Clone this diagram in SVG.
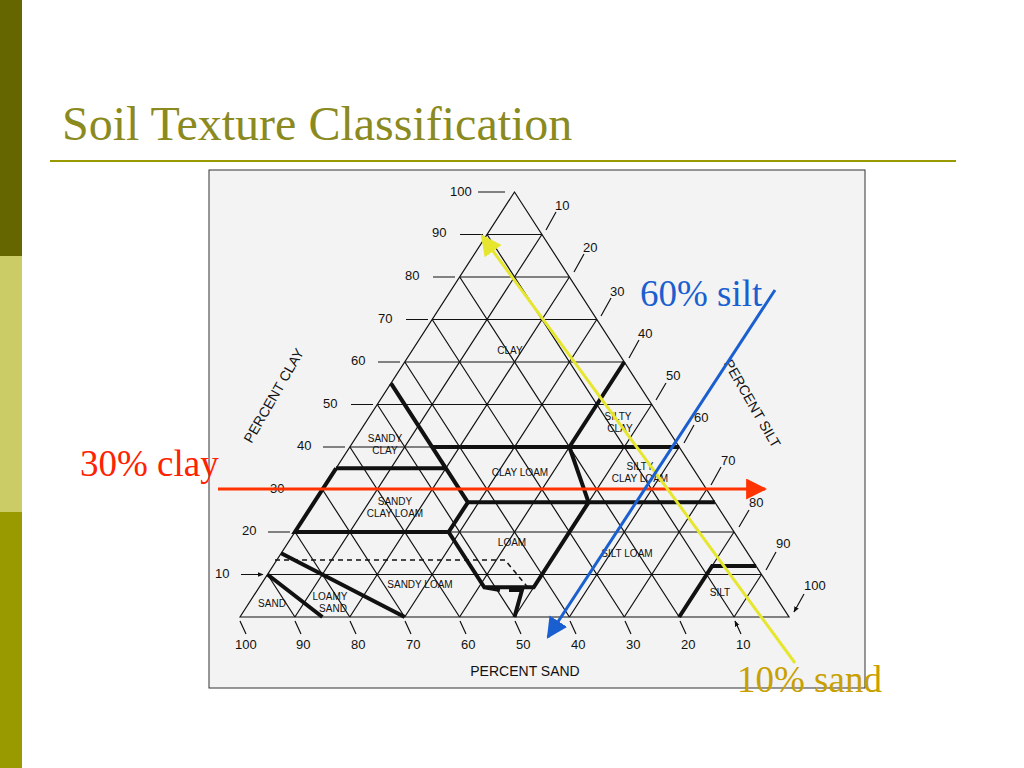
<svg xmlns="http://www.w3.org/2000/svg" width="1024" height="768" viewBox="0 0 1024 768">
<style>
.g{stroke:#111;stroke-width:1.2;fill:none}
.t{stroke:#111;stroke-width:4;fill:none}
.k{stroke:#111;stroke-width:1.2;fill:none}
.n{font-family:"Liberation Sans",Arial,sans-serif;font-size:13px;fill:#111}
.c{font-family:"Liberation Sans",Arial,sans-serif;font-size:10px;fill:#111;text-anchor:middle}
.a{font-family:"Liberation Sans",Arial,sans-serif;font-size:14px;fill:#111}
.s{font-family:"Liberation Serif","Times New Roman",serif;font-size:37px}
</style>
<defs>
<marker id="ar" viewBox="0 0 10 10" refX="9" refY="5" markerWidth="7" markerHeight="7" orient="auto-start-reverse"><path d="M0,0L10,5L0,10z" fill="context-stroke"/></marker>
<marker id="tk" viewBox="0 0 10 10" refX="9" refY="5" markerWidth="6" markerHeight="6" markerUnits="userSpaceOnUse" orient="auto"><path d="M0,1L10,5L0,9z" fill="#111"/></marker>
</defs>
<rect width="1024" height="768" fill="#fff"/>
<rect x="0" y="0" width="22" height="256" fill="#666600"/>
<rect x="0" y="256" width="22" height="256" fill="#cccc66"/>
<rect x="0" y="512" width="22" height="256" fill="#999900"/>
<text x="62" y="140" font-family="Liberation Serif,serif" font-size="48" fill="#8a8a1e">Soil Texture Classification</text>
<line x1="50" y1="161" x2="956" y2="161" stroke="#999900" stroke-width="2"/>
<rect x="209" y="170" width="656" height="518" fill="#f3f3f3" stroke="#333" stroke-width="1"/>
<g id="grid">
<path class="g" d="M240,617L514.5,192L789,617Z"/>
<path class="g" d="M267.5,574.5H761.5M295,532H734M322.4,489.5H706.6M349.9,447H679.2M377.3,404.5H651.7M404.8,362H624.3M432.2,319.5H596.8M459.7,277H569.4M487.1,234.5H541.9"/>
<path class="g" d="M734.1,617L761.5,574.5M679.2,617L734,532M624.3,617L706.6,489.5M569.4,617L679.2,447M514.5,617L651.7,404.5M459.6,617L624.3,362M404.7,617L596.8,319.5M349.8,617L569.4,277M294.9,617L541.9,234.5"/>
<path class="g" d="M294.9,617L267.5,574.5M349.8,617L295,532M404.7,617L322.4,489.5M459.6,617L349.9,447M514.5,617L377.3,404.5M569.4,617L404.8,362M624.3,617L432.2,319.5M679.2,617L459.7,277M734.1,617L487.1,234.5"/>
</g>
<g id="boundaries">
<path class="t" d="M432.2,447H679.2M569.4,447L624.3,362M391,383.3L467.9,502.3M336.1,468.3H445.9M467.9,502.3H714.9M569.4,447L588.6,502.3M336.1,468.3L294.9,532H448.6L467.9,502.3M448.6,532L484.3,587.3H533.7L588.6,502.3M484.3,587.3L500,590M509,590L522,590L514.5,617M679.2,617L712.2,566H756.1M281.2,553.3L404.7,617M267.5,574.5L322.4,617"/>
<path d="M275,560H505L530,590" stroke="#111" stroke-width="1.5" stroke-dasharray="5,4" fill="none"/>
</g>
<g id="ticks" class="n">
<text x="450" y="196">100</text><text x="432" y="237">90</text><text x="405" y="280">80</text><text x="378" y="323">70</text><text x="351" y="365">60</text><text x="323" y="408">50</text><text x="297" y="450">40</text><text x="270" y="493">30</text><text x="242" y="535">20</text><text x="215" y="578">10</text>
<text x="555" y="210">10</text><text x="583" y="252">20</text><text x="610" y="296">30</text><text x="638" y="338">40</text><text x="666" y="380">50</text><text x="694" y="422">60</text><text x="721" y="465">70</text><text x="749" y="507">80</text><text x="776" y="548">90</text><text x="804" y="590">100</text>
<text x="235" y="649">100</text><text x="296" y="649">90</text><text x="351" y="649">80</text><text x="406" y="649">70</text><text x="461" y="649">60</text><text x="516" y="649">50</text><text x="571" y="649">40</text><text x="626" y="649">30</text><text x="681" y="649">20</text><text x="736" y="649">10</text>
</g>
<g id="tickarrows">
<path class="k" marker-end="url(#tk)" d="M478,192H505M460,234.5H483M433,277H455M406,319.5H428M378,362H400M351,404.5H373M323,447H345M296,489.5H318M268,532H290M241,574.5H263"/>
<path class="k" marker-end="url(#tk)" d="M556,212L546,230M584,254L574,272M611,298L601,316M639,340L629,358M666,383L656,400M694,425L684,443M721,467L711,485M749,510L739,527M776,552L766,570M804,594L794,612"/>
<path class="k" marker-end="url(#tk)" d="M246,634L240,621M301,634L295,621M356,634L350,621M411,634L405,621M466,634L460,621M521,634L515,621M576,634L570,621M631,634L625,621M686,634L680,621M741,634L735,621"/>
</g>
<g id="labels">
<text class="c" x="510" y="354">CLAY</text>
<text class="c" x="618" y="420">SILTY</text><text class="c" x="620" y="432">CLAY</text>
<text class="c" x="385" y="442">SANDY</text><text class="c" x="385" y="454">CLAY</text>
<text class="c" x="520" y="476">CLAY LOAM</text>
<text class="c" x="640" y="470">SILTY</text><text class="c" x="640" y="482">CLAY LOAM</text>
<text class="c" x="395" y="505">SANDY</text><text class="c" x="395" y="517">CLAY LOAM</text>
<text class="c" x="512" y="546">LOAM</text>
<text class="c" x="627" y="557">SILT LOAM</text>
<text class="c" x="420" y="588">SANDY LOAM</text>
<text class="c" x="330" y="600">LOAMY</text><text class="c" x="333" y="612">SAND</text>
<text class="c" x="272" y="607">SAND</text>
<text class="c" x="720" y="596">SILT</text>
<text class="a" transform="translate(278,398) rotate(-60)" text-anchor="middle">PERCENT CLAY</text>
<text class="a" transform="translate(748,406) rotate(60)" text-anchor="middle">PERCENT SILT</text>
<text class="a" x="525" y="676" text-anchor="middle">PERCENT SAND</text>
</g>
<g id="overlays">
<line x1="218" y1="489" x2="765" y2="489" stroke="#ff3300" stroke-width="3" marker-end="url(#ar)"/>
<line x1="795" y1="663" x2="482" y2="236" stroke="#e6e62e" stroke-width="3" marker-end="url(#ar)"/>
<line x1="775" y1="290" x2="548" y2="637" stroke="#1a5fd0" stroke-width="3" marker-end="url(#ar)"/>
<text class="s" x="80" y="476" fill="#ff2200">30% clay</text>
<text class="s" x="640" y="306" fill="#1a5fd0">60% silt</text>
<text class="s" x="737" y="692" fill="#c8a000">10% sand</text>
</g>
</svg>
